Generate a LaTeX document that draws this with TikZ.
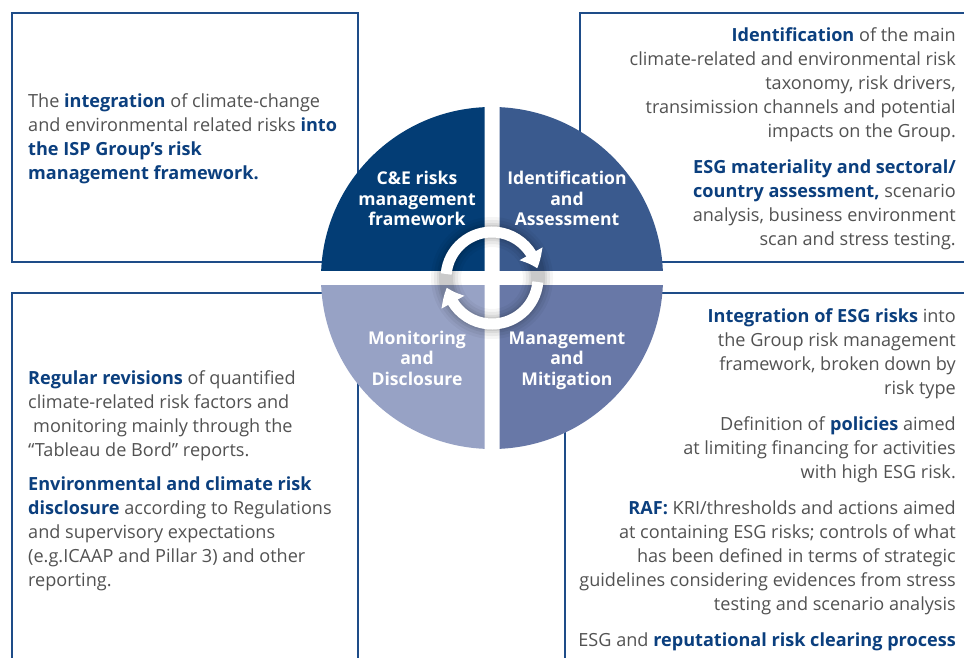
\documentclass[tikz,border=0pt]{standalone}
\usepackage{fontspec}
\setmainfont{Open Sans}
\usetikzlibrary{arrows.meta,bending,calc}
\definecolor{qa}{HTML}{033D75}
\definecolor{qb}{HTML}{3A5A8E}
\definecolor{qc}{HTML}{6878A7}
\definecolor{qd}{HTML}{97A2C5}
\definecolor{boxblue}{HTML}{1E4C88}
\definecolor{txtblue}{HTML}{0B3F7E}
\definecolor{txtgray}{HTML}{525252}
\newcommand\blu[1]{\textbf{\color{txtblue}#1}}
\tikzset{
  box/.style={draw=boxblue, line width=1.3pt},
  body/.style={text=txtgray, inner sep=0pt, font=\fontsize{18.1}{24}\selectfont},
  lab/.style={text=white, inner sep=0pt, align=center, font=\bfseries\fontsize{17.6}{20.5}\selectfont},
  ring/.style={draw=white, line width=11pt, -{Triangle[width=25pt,length=16pt,bend]}},
  glow/.style={draw=black, opacity=#1}
}
\begin{document}
\begin{tikzpicture}[x=1pt,y=1pt]
\useasboundingbox (0,0) rectangle (964,657);
\clip (0,0) rectangle (964,657);
\fill[white] (0,0) rectangle (964,657);
% boxes
\draw[box] (12,644) rectangle (358,395);
\draw[box] (580,644) rectangle (990,395);
\draw[box] (12,364) rectangle (358,-20);
\draw[box] (565,364) rectangle (990,-20);
% circle quarters
\coordinate (C) at (492,379);
\begin{scope}
  \clip ($(C)+(-200,7.5)$) rectangle ($(C)+(-7.5,200)$);
  \fill[qa] (C) circle (171);
\end{scope}
\begin{scope}
  \clip ($(C)+(7.5,7.5)$) rectangle ($(C)+(200,200)$);
  \fill[qb] (C) circle (171);
\end{scope}
\begin{scope}
  \clip ($(C)+(7.5,-7.5)$) rectangle ($(C)+(200,-200)$);
  \fill[qc] (C) circle (171);
\end{scope}
\begin{scope}
  \clip ($(C)+(-7.5,-7.5)$) rectangle ($(C)+(-200,-200)$);
  \fill[qd] (C) circle (171);
\end{scope}
% glow
\draw[glow=0.04, line width=30pt] (C) circle (46);
\draw[glow=0.05, line width=24pt] (C) circle (46);
\draw[glow=0.06, line width=18pt] (C) circle (46);
\draw[glow=0.07, line width=14pt] (C) circle (46);
% ring arrows
\draw[ring] ($(C)+(175:46)$) arc[start angle=175, end angle=12, radius=46];
\draw[ring] ($(C)+(355:46)$) arc[start angle=355, end angle=192, radius=46];
% quarter labels (anchor = baseline of last line)
\node[lab, anchor=base] (la) at (417,431) {C\&E risks\\management\\framework};
\node[lab, anchor=base] (lb) at (567,431) {Identification\\and\\Assessment};
\node[lab, anchor=base] (ld) at (417,272) {Monitoring\\and\\Disclosure};
\node[lab, anchor=base] (lc) at (567,272) {Management\\and\\Mitigation};
% texts (anchor = baseline of last line)
\node[body, align=left, anchor=base west] (ttl) at (28,477) {The \blu{integration} of climate-change\\and environmental related risks \blu{into}\\\blu{the ISP Group’s risk}\\\blu{management framework.}};
\node[body, align=right, anchor=base east] (ttr) at (956,411) {\blu{Identification} of the main\\climate-related and environmental risk\\taxonomy, risk drivers,\\transimission channels and potential\\impacts on the Group.\\[12pt]\blu{ESG materiality and sectoral/}\\\blu{country assessment,} scenario\\analysis, business environment\\scan and stress testing.};
\node[body, align=left, anchor=base west] (tbl) at (28,71) {\blu{Regular revisions} of quantified\\climate-related risk factors and\\\hspace{5pt}monitoring mainly through the\\“Tableau de Bord”\ reports.\\[10pt]\blu{Environmental and climate risk}\\\blu{disclosure} according to Regulations\\and supervisory expectations\\(e.g.ICAAP and Pillar 3) and other\\reporting.};
\node[body, align=right, anchor=base east] (tbr) at (956,11) {\blu{Integration of ESG risks} into\\the Group risk management\\framework, broken down by\\risk type\\[12pt]Definition of \blu{policies} aimed\\at limiting financing for activities\\with high ESG risk.\\[12pt]\blu{RAF:} KRI/thresholds and actions aimed\\at containing ESG risks; controls of what\\has been defined in terms of strategic\\guidelines considering evidences from stress\\testing and scenario analysis\\[12pt]ESG and \blu{reputational risk clearing process}};
\end{tikzpicture}
\end{document}
